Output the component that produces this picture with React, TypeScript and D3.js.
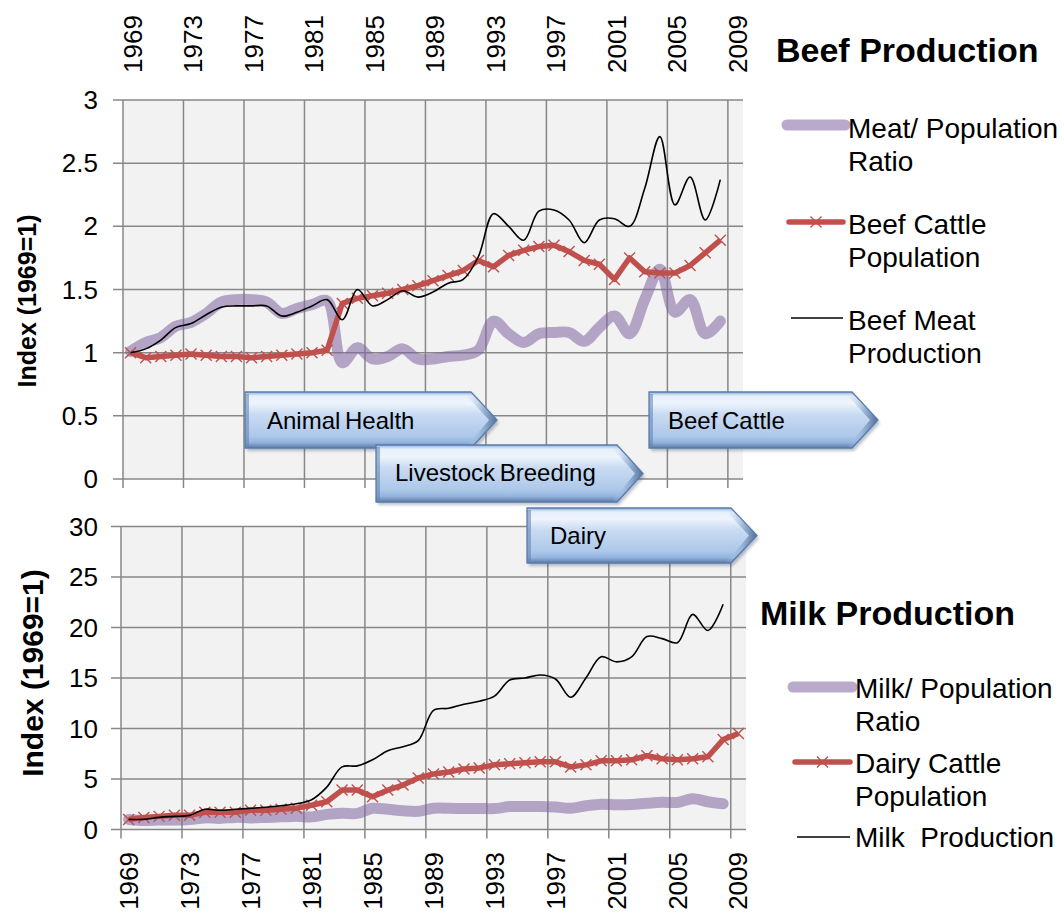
import React from 'react';
import * as d3 from 'd3';

// Category axis: one band per year
const YEARS = [
  1969, 1970, 1971, 1972, 1973, 1974, 1975, 1976, 1977, 1978,
  1979, 1980, 1981, 1982, 1983, 1984, 1985, 1986, 1987, 1988,
  1989, 1990, 1991, 1992, 1993, 1994, 1995, 1996, 1997, 1998,
  1999, 2000, 2001, 2002, 2003, 2004, 2005, 2006, 2007, 2008, 2009,
];
const LABEL_YEARS = [1969, 1973, 1977, 1981, 1985, 1989, 1993, 1997, 2001, 2005, 2009];

// Beef production indices (1969 = 1), 1969-2008
const BEEF_RATIO = [
  1.01, 1.08, 1.12, 1.21, 1.24, 1.31, 1.40, 1.42, 1.42, 1.40,
  1.31, 1.35, 1.38, 1.41, 0.92, 1.04, 0.95, 0.97, 1.03, 0.95,
  0.95, 0.97, 0.98, 1.02, 1.25, 1.15, 1.08, 1.15, 1.16, 1.16,
  1.09, 1.20, 1.29, 1.15, 1.42, 1.66, 1.32, 1.42, 1.15, 1.25,
];
const BEEF_CATTLE = [
  1.00, 0.96, 0.97, 0.98, 0.99, 0.98, 0.97, 0.97, 0.96, 0.97,
  0.98, 0.99, 1.00, 1.02, 1.39, 1.43, 1.45, 1.47, 1.50, 1.53,
  1.57, 1.61, 1.65, 1.73, 1.68, 1.77, 1.81, 1.84, 1.85, 1.80,
  1.73, 1.70, 1.58, 1.75, 1.64, 1.63, 1.63, 1.69, 1.79, 1.89,
];
const BEEF_MEAT = [
  1.00, 1.03, 1.10, 1.20, 1.23, 1.30, 1.36, 1.37, 1.37, 1.37,
  1.29, 1.32, 1.37, 1.42, 1.26, 1.50, 1.37, 1.42, 1.49, 1.44,
  1.48, 1.55, 1.58, 1.76, 2.10, 2.00, 1.89, 2.12, 2.13, 2.05,
  1.87, 2.05, 2.06, 2.00, 2.30, 2.71, 2.17, 2.39, 2.05, 2.37,
];

// Milk production indices (1969 = 1); dairy cattle runs to 2009
const MILK_RATIO = [
  1.00, 0.90, 0.95, 0.95, 1.00, 1.15, 1.10, 1.20, 1.15, 1.20,
  1.25, 1.30, 1.25, 1.50, 1.60, 1.60, 2.10, 2.00, 1.85, 1.80,
  2.10, 2.10, 2.07, 2.08, 2.07, 2.27, 2.27, 2.28, 2.22, 2.10,
  2.35, 2.50, 2.45, 2.48, 2.60, 2.70, 2.68, 3.05, 2.75, 2.55,
];
const DAIRY_CATTLE = [
  1.0, 1.2, 1.3, 1.4, 1.4, 1.7, 1.7, 1.7, 1.9, 1.9,
  2.0, 2.1, 2.4, 2.75, 3.9, 3.9, 3.25, 3.9, 4.4, 5.1,
  5.5, 5.7, 6.0, 6.1, 6.4, 6.5, 6.6, 6.7, 6.7, 6.2,
  6.4, 6.8, 6.8, 6.9, 7.3, 7.0, 6.9, 7.0, 7.2, 8.9, 9.5,
];
const MILK_PROD = [
  1.0, 1.0, 1.2, 1.3, 1.4, 2.0, 1.9, 2.0, 2.1, 2.2,
  2.35, 2.55, 2.95, 4.2, 6.2, 6.3, 6.9, 7.8, 8.2, 8.8,
  11.8, 12.0, 12.4, 12.7, 13.2, 14.8, 15.0, 15.3, 14.9, 13.1,
  15.0, 17.1, 16.6, 17.1, 19.1, 18.9, 18.5, 21.3, 19.7, 22.3,
];

const BEEF_TICKS = [0, 0.5, 1, 1.5, 2, 2.5, 3];
const MILK_TICKS = [0, 5, 10, 15, 20, 25, 30];

const BEEF_LEGEND = [
  ['Meat/ Population', 'Ratio'],
  ['Beef Cattle', 'Population'],
  ['Beef Meat', 'Production'],
];
const MILK_LEGEND = [
  ['Milk/ Population', 'Ratio'],
  ['Dairy Cattle', 'Population'],
  ['Milk  Production'],
];

const PROGRAMS = ['Animal Health', 'Beef Cattle', 'Livestock Breeding', 'Dairy'];

const FONT = '"Liberation Sans", Arial, Helvetica, sans-serif';
const GRID = '#878787';
const PLOT_BG = '#F2F2F2';
const RED = '#C0504D';
const PURPLE = '#8064A2';

type PanelProps = {
  left: number; right: number; top: number; bottom: number;
  yMax: number; ticks: number[];
  ratio: number[]; cattle: number[]; output: number[];
  labelsOnTop: boolean;
  title: string; titleX: number; titleY: number; titleSize: number;
};

function Cross({ cx, cy, r }: { cx: number; cy: number; r: number }) {
  return (
    <path
      d={`M${cx - r},${cy - r}L${cx + r},${cy + r}M${cx - r},${cy + r}L${cx + r},${cy - r}`}
      stroke={RED} strokeWidth={1.4} fill="none"
    />
  );
}

function Panel(p: PanelProps) {
  const x = d3.scaleBand<number>().domain(YEARS).range([p.left, p.right]).padding(0);
  const bw = x.bandwidth();
  const cx = (i: number) => (x(YEARS[i]) as number) + bw / 2;
  const y = d3.scaleLinear().domain([0, p.yMax]).range([p.bottom, p.top]);

  const smooth = d3.line<number>().x((_, i) => cx(i)).y((v) => y(v)).curve(d3.curveCatmullRom.alpha(0.5));
  const straight = d3.line<number>().x((_, i) => cx(i)).y((v) => y(v));

  return (
    <g>
      <rect x={p.left} y={p.top} width={p.right - p.left} height={p.bottom - p.top} fill={PLOT_BG} />
      {p.ticks.map((t) => (
        <g key={`h${t}`}>
          <line x1={p.left - 10} x2={p.right} y1={y(t)} y2={y(t)} stroke={GRID} strokeWidth={1.5} />
          <text x={98} y={y(t)} dy="0.35em" textAnchor="end" fontSize={26} fontFamily={FONT} fill="#000">
            {t}
          </text>
        </g>
      ))}
      {LABEL_YEARS.map((yr) => {
        const gx = x(yr) as number;
        const c = gx + bw / 2;
        return (
          <g key={`v${yr}`}>
            <line x1={gx} x2={gx} y1={p.top} y2={p.bottom + 9} stroke={GRID} strokeWidth={1.5} />
            {p.labelsOnTop ? (
              <text transform={`translate(${c + 2},73) rotate(-90)`} dy="0.35em" textAnchor="start"
                fontSize={26} fontFamily={FONT} fill="#000">{yr}</text>
            ) : (
              <text transform={`translate(${c},852) rotate(-90)`} dy="0.35em" textAnchor="end"
                fontSize={26} fontFamily={FONT} fill="#000">{yr}</text>
            )}
          </g>
        );
      })}
      <path d={smooth(p.ratio) || ''} fill="none" stroke={PURPLE} strokeOpacity={0.55}
        strokeWidth={11} strokeLinecap="round" strokeLinejoin="round" />
      <path d={straight(p.cattle) || ''} fill="none" stroke={RED} strokeWidth={5.5}
        strokeLinejoin="round" />
      {p.cattle.map((v, i) => <Cross key={`m${i}`} cx={cx(i)} cy={y(v)} r={5.5} />)}
      <path d={smooth(p.output) || ''} fill="none" stroke="#000" strokeWidth={1.6} />
      <text transform={`translate(${p.titleX},${p.titleY}) rotate(-90)`} textAnchor="middle"
        fontSize={p.titleSize} fontWeight="bold" fontFamily={FONT} fill="#000">Index (1969=1)</text>
    </g>
  );
}

type LegendProps = {
  heading: string; hx: number; hy: number;
  entries: string[][];
  sx0: number; sx1: number; tx: number;
  rows: { ly: number; ty: number }[];
};

function Legend(l: LegendProps) {
  return (
    <g fontFamily={FONT}>
      <text x={l.hx} y={l.hy} fontSize={34} fontWeight="bold" fill="#000">{l.heading}</text>
      {l.entries.map((lines, k) => {
        const r = l.rows[k];
        let mark;
        if (k === 0) {
          mark = <line x1={l.sx0} x2={l.sx1} y1={r.ly} y2={r.ly} stroke={PURPLE} strokeOpacity={0.55}
            strokeWidth={11} strokeLinecap="round" />;
        } else if (k === 1) {
          mark = (
            <g>
              <line x1={l.sx0 + 2} x2={l.sx1 - 2} y1={r.ly} y2={r.ly} stroke={RED} strokeWidth={5.5}
                strokeLinecap="round" />
              <Cross cx={(l.sx0 + l.sx1) / 2} cy={r.ly} r={5.5} />
            </g>
          );
        } else {
          mark = <line x1={l.sx0 + 4} x2={l.sx1 - 2} y1={r.ly} y2={r.ly} stroke="#000" strokeWidth={1.6} />;
        }
        return (
          <g key={k}>
            {mark}
            {lines.map((s, j) => (
              <text key={j} x={l.tx} y={r.ty + j * 33} fontSize={28} fill="#000"
                style={{ whiteSpace: 'pre' }}>{s}</text>
            ))}
          </g>
        );
      })}
    </g>
  );
}

// Placement of the programme banners (left, right, top, bottom, text baseline)
const BANNER_BOXES = [
  { x0: 245, x1: 497, y0: 392, y1: 448, tx: 267, ty: 429 },
  { x0: 649, x1: 878, y0: 392, y1: 448, tx: 668, ty: 429 },
  { x0: 376, x1: 643, y0: 445, y1: 502, tx: 395, ty: 481 },
  { x0: 527, x1: 757, y0: 508, y1: 563, tx: 550, ty: 544 },
];

function Banner({ label, b }: { label: string; b: typeof BANNER_BOXES[number] }) {
  const tip = 26;
  const ym = (b.y0 + b.y1) / 2;
  const shape = `M${b.x0},${b.y0}H${b.x1 - tip}L${b.x1},${ym}L${b.x1 - tip},${b.y1}H${b.x0}Z`;
  const bevel = `M${b.x1 - tip - 6},${b.y0 + 2}H${b.x1 - tip}L${b.x1},${ym}L${b.x1 - tip},${b.y1}H${b.x1 - tip - 6}L${b.x1 - 8},${ym}Z`;
  return (
    <g>
      <path d={shape} transform="translate(2,3)" fill="#3a4f6e" opacity={0.35} filter="url(#bannerShadow)" />
      <path d={shape} fill="url(#bannerFill)" />
      <path d={bevel} fill="url(#bannerTip)" />
      <rect x={b.x0} y={b.y0 + 2} width={4} height={b.y1 - b.y0 - 4} fill="#5f7fae" opacity={0.55} />
      <path d={shape} fill="none" stroke="#5a7cab" strokeWidth={1.3} />
      <text x={b.tx} y={b.ty} fontSize={24} fontFamily={FONT} fill="#000" wordSpacing={-2}>{label}</text>
    </g>
  );
}

export default function App() {
  return (
    <svg width={1064} height={918} viewBox="0 0 1064 918"
      style={{ position: 'absolute', left: 0, top: 0, background: '#fff' }}>
      <defs>
        <linearGradient id="bannerFill" x1="0" y1="0" x2="0" y2="1">
          <stop offset="0" stopColor="#8fb0da" />
          <stop offset="0.07" stopColor="#e6f0fb" />
          <stop offset="0.2" stopColor="#eef4fc" />
          <stop offset="0.4" stopColor="#c8dbf2" />
          <stop offset="0.78" stopColor="#aec8ea" />
          <stop offset="0.9" stopColor="#94b4de" />
          <stop offset="1" stopColor="#5b7aa6" />
        </linearGradient>
        <linearGradient id="bannerTip" x1="0" y1="0" x2="1" y2="0">
          <stop offset="0" stopColor="#c9dbf2" stopOpacity="0" />
          <stop offset="0.6" stopColor="#7d9cc6" stopOpacity="0.7" />
          <stop offset="1" stopColor="#45628d" stopOpacity="0.9" />
        </linearGradient>
        <filter id="bannerShadow" x="-5%" y="-20%" width="110%" height="140%">
          <feGaussianBlur stdDeviation="1.5" />
        </filter>
      </defs>

      <Panel left={123} right={743} top={100} bottom={479} yMax={3} ticks={BEEF_TICKS}
        ratio={BEEF_RATIO} cattle={BEEF_CATTLE} output={BEEF_MEAT} labelsOnTop
        title="beef" titleX={36} titleY={301} titleSize={25} />
      <Panel left={121} right={746} top={526.5} bottom={829.5} yMax={30} ticks={MILK_TICKS}
        ratio={MILK_RATIO} cattle={DAIRY_CATTLE} output={MILK_PROD} labelsOnTop={false}
        title="milk" titleX={43} titleY={673} titleSize={30} />

      <Legend heading="Beef Production" hx={776} hy={62} entries={BEEF_LEGEND}
        sx0={787} sx1={845} tx={848}
        rows={[{ ly: 125, ty: 138 }, { ly: 222, ty: 234 }, { ly: 318, ty: 330 }]} />
      <Legend heading="Milk Production" hx={760} hy={625} entries={MILK_LEGEND}
        sx0={793} sx1={852} tx={855}
        rows={[{ ly: 687, ty: 698 }, { ly: 762, ty: 773 }, { ly: 837, ty: 847 }]} />

      {PROGRAMS.map((name, i) => <Banner key={name} label={name} b={BANNER_BOXES[i]} />)}
    </svg>
  );
}
